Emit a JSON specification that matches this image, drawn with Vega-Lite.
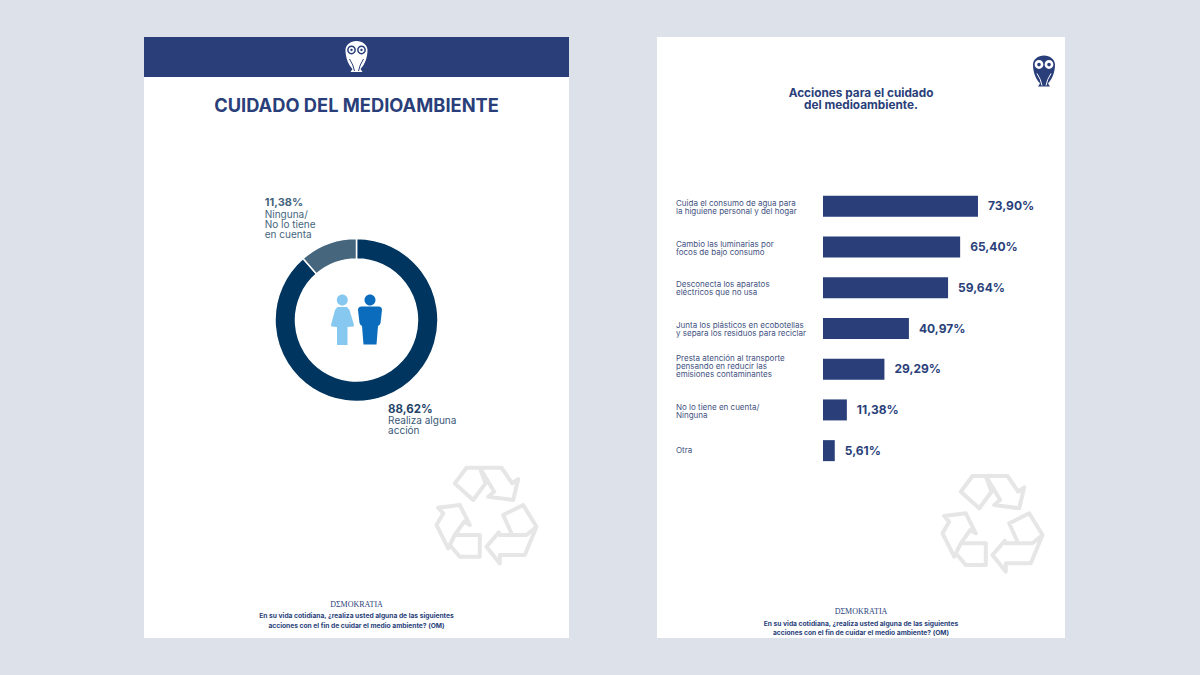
{
  "$schema": "https://vega.github.io/schema/vega-lite/v6.json",
  "background": "#dde1e9",
  "padding": {"left": 144, "top": 37, "right": 135, "bottom": 37},
  "config": {
    "view": {"stroke": null, "fill": "#ffffff"},
    "text": {"font": "Inter"},
    "concat": {"spacing": 0}
  },
  "hconcat": [
    {
      "bounds": "flush",
      "spacing": 0,
      "vconcat": [
        {
          "width": 425,
          "height": 40,
          "view": {"fill": "#2a3f7a", "stroke": null},
          "data": {"values": [{"logo": "buho"}]},
          "layer": [
            {"mark": {"type": "point", "size": 4, "filled": true, "opacity": 1, "color": "#ffffff", "shape": "M-11,-7 A11,9 0 0,1 11,-7 C11,1 8,8 4,12 L6,15 H-6 L-4,12 C-8,8 -11,1 -11,-7 Z"}},
            {"mark": {"type": "point", "size": 4, "filled": true, "opacity": 1, "color": "#2a3f7a", "shape": "M-9.4,-7 A4.4,4.4 0 1,0 -0.6,-7 A4.4,4.4 0 1,0 -9.4,-7 Z M0.6,-7 A4.4,4.4 0 1,0 9.4,-7 A4.4,4.4 0 1,0 0.6,-7 Z"}},
            {"mark": {"type": "point", "size": 4, "filled": true, "opacity": 1, "color": "#ffffff", "shape": "M-7.9,-7 A2.9,2.9 0 1,0 -2.1,-7 A2.9,2.9 0 1,0 -7.9,-7 Z M2.1,-7 A2.9,2.9 0 1,0 7.9,-7 A2.9,2.9 0 1,0 2.1,-7 Z"}},
            {"mark": {"type": "point", "size": 4, "filled": true, "opacity": 1, "color": "#2a3f7a", "shape": "M-6.2,-7 A1.2,1.2 0 1,0 -3.8,-7 A1.2,1.2 0 1,0 -6.2,-7 Z M3.8,-7 A1.2,1.2 0 1,0 6.2,-7 A1.2,1.2 0 1,0 3.8,-7 Z"}},
            {"mark": {"type": "point", "size": 4, "filled": false, "opacity": 1, "color": "#2a3f7a", "strokeWidth": 1, "shape": "M-7,2 Q-3,8 -2,14 M7,2 Q3,8 2,14"}}
          ]
        },
        {
          "width": 425,
          "height": 113,
          "view": {"fill": "#ffffff", "stroke": null},
          "data": {"values": [{"titulo": "CUIDADO DEL MEDIOAMBIENTE"}]},
          "mark": {"type": "text", "font": "Inter", "fontWeight": 700, "fontSize": 18.3, "color": "#2a3f7a", "dy": -26.5},
          "encoding": {"text": {"field": "titulo"}}
        },
        {
          "width": 425,
          "height": 260,
          "view": {"fill": "#ffffff", "stroke": null},
          "data": {"values": [
            {"grupo": "Realiza alguna acción", "orden": 1, "pct": 88.62, "valor": "88,62%", "texto": "Realiza alguna\nacción"},
            {"grupo": "Ninguna", "orden": 2, "pct": 11.38, "valor": "11,38%", "texto": "Ninguna/\nNo lo tiene\nen cuenta"}
          ]},
          "encoding": {
            "theta": {"field": "pct", "type": "quantitative", "stack": true},
            "order": {"field": "orden", "type": "ordinal"}
          },
          "layer": [
            {
              "mark": {"type": "arc", "radius": 81.5, "radius2": 61, "stroke": "#ffffff", "strokeWidth": 1.5},
              "encoding": {"color": {"field": "grupo", "type": "nominal", "legend": null, "scale": {"domain": ["Realiza alguna acción", "Ninguna"], "range": ["#00355f", "#46667d"]}}}
            },
            {
              "mark": {"type": "text", "radius": 96, "align": "left", "baseline": "middle", "dx": -2, "fontWeight": 700, "fontSize": 11.5, "color": "#1f4468"},
              "encoding": {"detail": {"field": "grupo"}, "text": {"condition": {"test": "datum.orden === 1", "field": "valor"}, "value": ""}}
            },
            {
              "mark": {"type": "text", "radius": 96, "align": "left", "baseline": "top", "dx": -2, "dy": 6.5, "fontSize": 10, "lineHeight": 10, "lineBreak": "\n", "color": "#3a5a78"},
              "encoding": {"detail": {"field": "grupo"}, "text": {"condition": {"test": "datum.orden === 1", "field": "texto"}, "value": ""}}
            },
            {
              "mark": {"type": "text", "radius": 125, "align": "left", "baseline": "middle", "dx": -48, "fontWeight": 700, "fontSize": 11, "color": "#46667d"},
              "encoding": {"detail": {"field": "grupo"}, "text": {"condition": {"test": "datum.orden === 2", "field": "valor"}, "value": ""}}
            },
            {
              "mark": {"type": "text", "radius": 125, "align": "left", "baseline": "top", "dx": -48, "dy": 7, "fontSize": 10, "lineHeight": 10, "lineBreak": "\n", "color": "#46667d"},
              "encoding": {"detail": {"field": "grupo"}, "text": {"condition": {"test": "datum.orden === 2", "field": "texto"}, "value": ""}}
            },
            {
              "data": {"values": [{"icono": "mujer"}]},
              "mark": {"type": "point", "size": 4, "filled": true, "opacity": 1, "color": "#86c8f0", "shape": "M-19.7,-20 A5.5,5.5 0 1,0 -8.7,-20 A5.5,5.5 0 1,0 -19.7,-20 Z M-19,-13 H-9.5 L-7,-10 L-2.5,5 L-3,6.5 L-9,7 V25 H-19.5 V7 L-25,6.5 L-25.5,5 L-21.5,-10 Z"},
              "encoding": {"theta": null, "order": null}
            },
            {
              "data": {"values": [{"icono": "hombre"}]},
              "mark": {"type": "point", "size": 4, "filled": true, "opacity": 1, "color": "#0b6cbd", "shape": "M8,-20 A5.5,5.5 0 1,0 19,-20 A5.5,5.5 0 1,0 8,-20 Z M5,-13.5 H22 Q25.5,-13.5 25.5,-10 L24,3 Q23.5,5 21.5,6 L20,24.5 H7 L5.5,6 Q3.5,5 3,3 L1.5,-10 Q1.5,-13.5 5,-13.5 Z"},
              "encoding": {"theta": null, "order": null}
            }
          ]
        },
        {
          "width": 425,
          "height": 130,
          "view": {"fill": "#ffffff", "stroke": null},
          "data": {"values": [{"icono": "reciclaje"}]},
          "mark": {"type": "point", "size": 4, "filled": false, "opacity": 1, "color": "#e6e6e6", "strokeWidth": 4, "strokeJoin": "round", "xOffset": 130, "yOffset": 1.7, "shape": "M-20,-49 L-6.7,-49 L-1,-33.3 L-13.3,-16.7 L-31.7,-33.3 Z M-6.7,-49 L15,-49 L25.7,-33.3 L31.7,-37.7 L26.7,-16.7 L1.7,-20 L7.7,-25 Z M16.7,-1.7 L36.7,-11.7 L50,10 L40,18.3 L25.7,18.3 Z M50,10 L38.3,38.3 L13.3,38.3 L13.3,46.7 L0,30 L12.3,15.7 L13.3,18.3 L40,18.3 M-48.3,-9 L-26.7,-11.7 L-16.7,8.3 L-22.3,5 L-31.7,18.3 L-38.3,31.7 L-50,8.3 L-43.3,-3.3 Z M-31.7,18.3 L-6.7,18.3 L-6.7,40 L-26.7,40 L-36.7,28.3 Z"}
        },
        {
          "width": 425,
          "height": 58,
          "view": {"fill": "#ffffff", "stroke": null},
          "layer": [
            {
              "data": {"values": [{"marca": "DΣMOKRATIA"}]},
              "mark": {"type": "text", "font": "Liberation Serif", "fontSize": 8, "color": "#2a3f7a", "dy": -4.5},
              "encoding": {"text": {"field": "marca"}}
            },
            {
              "data": {"values": [{"pregunta": "En su vida cotidiana, ¿realiza usted alguna de las siguientes\nacciones con el fin de cuidar el medio ambiente? (OM)"}]},
              "mark": {"type": "text", "fontWeight": 700, "fontSize": 6.7, "lineHeight": 9.5, "lineBreak": "\n", "color": "#2a3f7a", "dy": 7},
              "encoding": {"text": {"field": "pregunta"}}
            }
          ]
        }
      ]
    },
    {
      "bounds": "flush",
      "spacing": 0,
      "vconcat": [
        {
          "width": 408,
          "height": 149,
          "view": {"fill": "#ffffff", "stroke": null},
          "layer": [
            {
              "data": {"values": [{"logo": "buho"}]},
              "layer": [
                {"mark": {"type": "point", "size": 4, "filled": true, "opacity": 1, "color": "#2a3f7a", "xOffset": 183, "yOffset": -40, "shape": "M-11,-7 A11,9 0 0,1 11,-7 C11,1 8,8 4,12 L6,15 H-6 L-4,12 C-8,8 -11,1 -11,-7 Z"}},
                {"mark": {"type": "point", "size": 4, "filled": true, "opacity": 1, "color": "#ffffff", "xOffset": 183, "yOffset": -40, "shape": "M-9.4,-7 A4.4,4.4 0 1,0 -0.6,-7 A4.4,4.4 0 1,0 -9.4,-7 Z M0.6,-7 A4.4,4.4 0 1,0 9.4,-7 A4.4,4.4 0 1,0 0.6,-7 Z"}},
                {"mark": {"type": "point", "size": 4, "filled": true, "opacity": 1, "color": "#2a3f7a", "xOffset": 183, "yOffset": -40, "shape": "M-6.8,-7 A1.8,1.8 0 1,0 -3.2,-7 A1.8,1.8 0 1,0 -6.8,-7 Z M3.2,-7 A1.8,1.8 0 1,0 6.8,-7 A1.8,1.8 0 1,0 3.2,-7 Z"}},
                {"mark": {"type": "point", "size": 4, "filled": false, "opacity": 1, "color": "#ffffff", "strokeWidth": 1, "xOffset": 183, "yOffset": -40, "shape": "M-7,2 Q-3,8 -2,14 M7,2 Q3,8 2,14"}}
              ]
            },
            {
              "data": {"values": [{"titulo": "Acciones para el cuidado\ndel medioambiente."}]},
              "mark": {"type": "text", "fontWeight": 700, "fontSize": 11.8, "lineHeight": 12.5, "lineBreak": "\n", "color": "#2a3f7a", "dy": -19},
              "encoding": {"text": {"field": "titulo"}}
            }
          ]
        },
        {
          "width": 408,
          "height": 285,
          "view": {"fill": "#ffffff", "stroke": null},
          "data": {"values": [
            {"accion": "Cuida el consumo de agua para\nla higuiene personal y del hogar", "pct": 73.90, "valor": "73,90%"},
            {"accion": "Cambio las luminarias por\nfocos de bajo consumo", "pct": 65.40, "valor": "65,40%"},
            {"accion": "Desconecta los aparatos\neléctricos que no usa", "pct": 59.64, "valor": "59,64%"},
            {"accion": "Junta los plásticos en ecobotellas\ny separa los residuos para reciclar", "pct": 40.97, "valor": "40,97%"},
            {"accion": "Presta atención al transporte\npensando en reducir las\nemisiones contaminantes", "pct": 29.29, "valor": "29,29%"},
            {"accion": "No lo tiene en cuenta/\nNinguna", "pct": 11.38, "valor": "11,38%"},
            {"accion": "Otra", "pct": 5.61, "valor": "5,61%"}
          ]},
          "encoding": {
            "y": {
              "field": "accion",
              "type": "nominal",
              "sort": null,
              "axis": null,
              "scale": {"domain": [
                "Cuida el consumo de agua para\nla higuiene personal y del hogar",
                "Cambio las luminarias por\nfocos de bajo consumo",
                "Desconecta los aparatos\neléctricos que no usa",
                "Junta los plásticos en ecobotellas\ny separa los residuos para reciclar",
                "Presta atención al transporte\npensando en reducir las\nemisiones contaminantes",
                "No lo tiene en cuenta/\nNinguna",
                "Otra"
              ]}
            }
          },
          "layer": [
            {
              "mark": {"type": "bar", "size": 21, "color": "#2a3f7a"},
              "encoding": {"x": {"field": "pct", "type": "quantitative", "axis": null, "scale": {"domain": [-79.16, 115.4], "nice": false, "zero": false}}}
            },
            {
              "mark": {"type": "text", "align": "left", "dx": 10, "fontWeight": 700, "fontSize": 12, "color": "#2a3f7a"},
              "encoding": {
                "x": {"field": "pct", "type": "quantitative"},
                "text": {"field": "valor"}
              }
            },
            {
              "transform": [{"filter": "length(split(datum.accion, '\\n')) === 1"}],
              "mark": {"type": "text", "align": "left", "dy": 0, "fontSize": 8, "lineHeight": 8, "lineBreak": "\n", "color": "#43527f"},
              "encoding": {
                "x": {"datum": -70.1, "type": "quantitative"},
                "text": {"field": "accion"}
              }
            },
            {
              "transform": [{"filter": "length(split(datum.accion, '\\n')) === 2"}],
              "mark": {"type": "text", "align": "left", "dy": -2.3, "fontSize": 8, "lineHeight": 8, "lineBreak": "\n", "color": "#43527f"},
              "encoding": {
                "x": {"datum": -70.1, "type": "quantitative"},
                "text": {"field": "accion"}
              }
            },
            {
              "transform": [{"filter": "length(split(datum.accion, '\\n')) === 3"}],
              "mark": {"type": "text", "align": "left", "dy": -10, "fontSize": 8, "lineHeight": 8, "lineBreak": "\n", "color": "#43527f"},
              "encoding": {
                "x": {"datum": -70.1, "type": "quantitative"},
                "text": {"field": "accion"}
              }
            }
          ]
        },
        {
          "width": 408,
          "height": 114,
          "view": {"fill": "#ffffff", "stroke": null},
          "data": {"values": [{"icono": "reciclaje"}]},
          "mark": {"type": "point", "size": 4, "filled": false, "opacity": 1, "color": "#e6e6e6", "strokeWidth": 4, "strokeJoin": "round", "xOffset": 131.5, "yOffset": -3, "shape": "M-20,-49 L-6.7,-49 L-1,-33.3 L-13.3,-16.7 L-31.7,-33.3 Z M-6.7,-49 L15,-49 L25.7,-33.3 L31.7,-37.7 L26.7,-16.7 L1.7,-20 L7.7,-25 Z M16.7,-1.7 L36.7,-11.7 L50,10 L40,18.3 L25.7,18.3 Z M50,10 L38.3,38.3 L13.3,38.3 L13.3,46.7 L0,30 L12.3,15.7 L13.3,18.3 L40,18.3 M-48.3,-9 L-26.7,-11.7 L-16.7,8.3 L-22.3,5 L-31.7,18.3 L-38.3,31.7 L-50,8.3 L-43.3,-3.3 Z M-31.7,18.3 L-6.7,18.3 L-6.7,40 L-26.7,40 L-36.7,28.3 Z"}
        },
        {
          "width": 408,
          "height": 53,
          "view": {"fill": "#ffffff", "stroke": null},
          "layer": [
            {
              "data": {"values": [{"marca": "DΣMOKRATIA"}]},
              "mark": {"type": "text", "font": "Liberation Serif", "fontSize": 8, "color": "#2a3f7a", "dy": 0.5},
              "encoding": {"text": {"field": "marca"}}
            },
            {
              "data": {"values": [{"pregunta": "En su vida cotidiana, ¿realiza usted alguna de las siguientes\nacciones con el fin de cuidar el medio ambiente? (OM)"}]},
              "mark": {"type": "text", "fontWeight": 700, "fontSize": 6.7, "lineHeight": 9.5, "lineBreak": "\n", "color": "#2a3f7a", "dy": 12},
              "encoding": {"text": {"field": "pregunta"}}
            }
          ]
        }
      ]
    }
  ],
  "spacing": 88
}
